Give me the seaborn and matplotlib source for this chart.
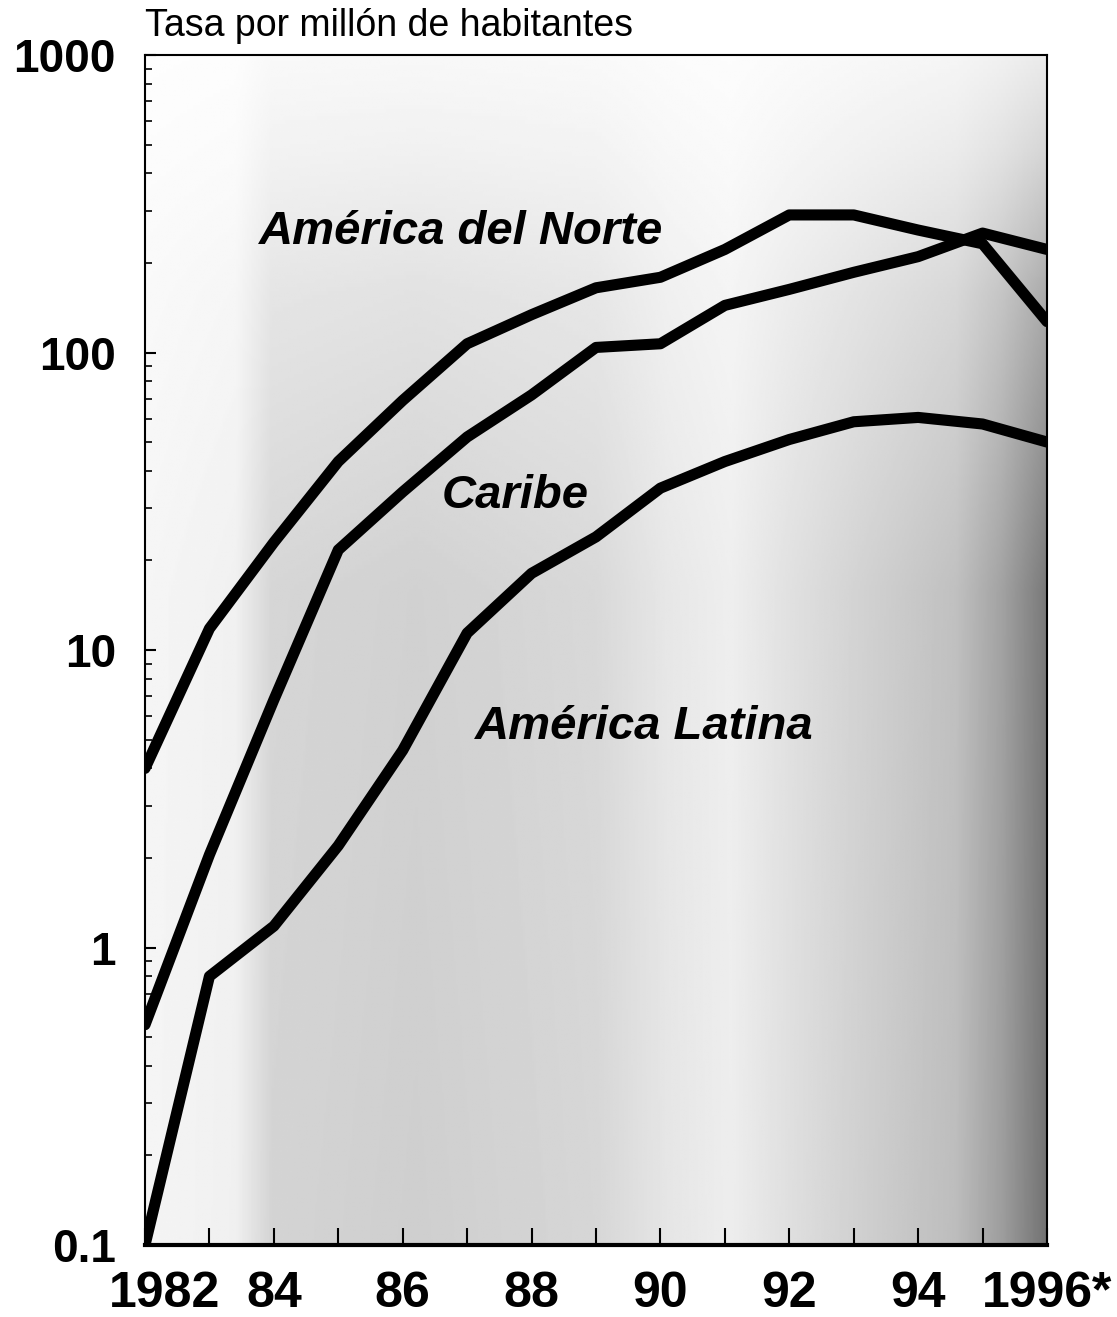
import numpy as np
import pandas as pd
import matplotlib
matplotlib.use("Agg")
import matplotlib.pyplot as plt
import seaborn as sns
from matplotlib import font_manager
from matplotlib.transforms import ScaledTranslation
from matplotlib.ticker import LogLocator, NullFormatter, FixedLocator

# values (rate per million inhabitants)
years = list(range(1982, 1997))
norte = [4.0, 11.8, 23, 43, 69, 107, 134, 165, 179, 222, 290, 290, 258, 232, 127]
caribe = [0.55, 2.05, 6.8, 21.7, 34, 52, 72, 104, 107, 144, 163, 186, 210, 252, 222]
latina = [0.1, 0.8, 1.18, 2.2, 4.6, 11.4, 18.1, 24, 35, 43, 51, 58.5, 60.5, 57.5, 50]

regions = ["América del Norte", "Caribe", "América Latina"]
label_x = [1986.9, 1987.75, 1989.75]
label_y = [254, 33, 5.5]

xtick_years = [1982, 1984, 1986, 1988, 1990, 1992, 1994, 1996]
xtick_labels = ["1982", "84", "86", "88", "90", "92", "94", "1996*"]
ytick_vals = [0.1, 1, 10, 100, 1000]
ytick_labels = ["0.1", "1", "10", "100", "1000"]

df = pd.DataFrame({
    "year": years * 3,
    "rate": norte + caribe + latina,
    "region": [r for r in regions for _ in years],
})

sns.set_style("white")
plt.rcParams["font.family"] = ["Liberation Sans", "DejaVu Sans"]
plt.rcParams["text.color"] = "black"
plt.rcParams["xtick.color"] = "black"
plt.rcParams["ytick.color"] = "black"

names = {f.name for f in font_manager.fontManager.ttflist}
if "Liberation Sans Narrow" in names:
    xfam, xsize = "Liberation Sans Narrow", 44
else:
    xfam, xsize = "Liberation Sans", 36

fig = plt.figure(figsize=(11.17, 13.17), dpi=100)
pos = [145 / 1117, 1 - 1245 / 1317, 902 / 1117, 1190 / 1317]

# scanned grey background, lighter on the left and top, darker at right edge
bg = fig.add_axes(pos, zorder=0)
cx = np.linspace(0, 1, 500)
cy = np.linspace(0, 1, 300)
tone = np.interp(cx, [0, 0.1, 0.14, 0.3, 0.5, 0.58, 0.65, 0.72, 0.8, 0.9, 0.95, 1],
                 [0.96, 0.94, 0.83, 0.81, 0.84, 0.9, 0.93, 0.87, 0.81, 0.74, 0.62, 0.45])
fac = np.interp(cy, [0, 0.55, 0.8, 0.92, 1], [1, 0.95, 0.6, 0.3, 0.15])
img = 1 - np.outer(fac, 1 - tone)
bg.imshow(img, cmap="gray", vmin=0, vmax=1, origin="lower", aspect="auto",
          extent=[0, 1, 0, 1])
bg.axis("off")

ax = fig.add_axes(pos, zorder=1)
ax.set_facecolor("none")
sns.lineplot(data=df, x="year", y="rate", hue="region", palette=["black"] * 3,
             linewidth=8, legend=False, ax=ax)
ax.set_yscale("log")
ax.set_xlim(1982, 1996)
ax.set_ylim(0.1, 1000)

ax.xaxis.set_major_locator(FixedLocator(xtick_years))
ax.xaxis.set_minor_locator(FixedLocator(years))
ax.set_xticklabels(xtick_labels, fontsize=xsize, fontweight="bold", family=xfam)
ax.set_yticks(ytick_vals)
ax.set_yticklabels(ytick_labels, fontsize=33, fontweight="bold")
ax.yaxis.set_minor_locator(LogLocator(base=10, subs=np.arange(2, 10), numticks=20))
ax.yaxis.set_minor_formatter(NullFormatter())

ax.tick_params(axis="x", which="both", direction="in", length=12, width=1.5,
               pad=19, bottom=True, top=False)
ax.tick_params(axis="y", which="major", direction="in", length=8, width=1.5,
               pad=21, left=True, right=False)
ax.tick_params(axis="y", which="minor", direction="in", length=5, width=1.2,
               left=True, right=False)

for s in ["left", "top", "right"]:
    ax.spines[s].set_linewidth(1.5)
    ax.spines[s].set_color("black")
ax.spines["bottom"].set_linewidth(3)
ax.spines["bottom"].set_color("black")

ax.set_xlabel("")
ax.set_ylabel("")

# nudge the first year label right as in the original
lab = ax.get_xticklabels()
lab[0].set_transform(lab[0].get_transform() + ScaledTranslation(0.2, 0, fig.dpi_scale_trans))

for name, lx, ly in zip(regions, label_x, label_y):
    ax.text(lx, ly, name, fontsize=34, fontweight="bold", fontstyle="italic",
            ha="center", va="center", color="black")

fig.text(145 / 1117, 1 - 36 / 1317, "Tasa por millón de habitantes",
         fontsize=27, ha="left", va="baseline", color="black")

fig.savefig("out.png", dpi=100)
